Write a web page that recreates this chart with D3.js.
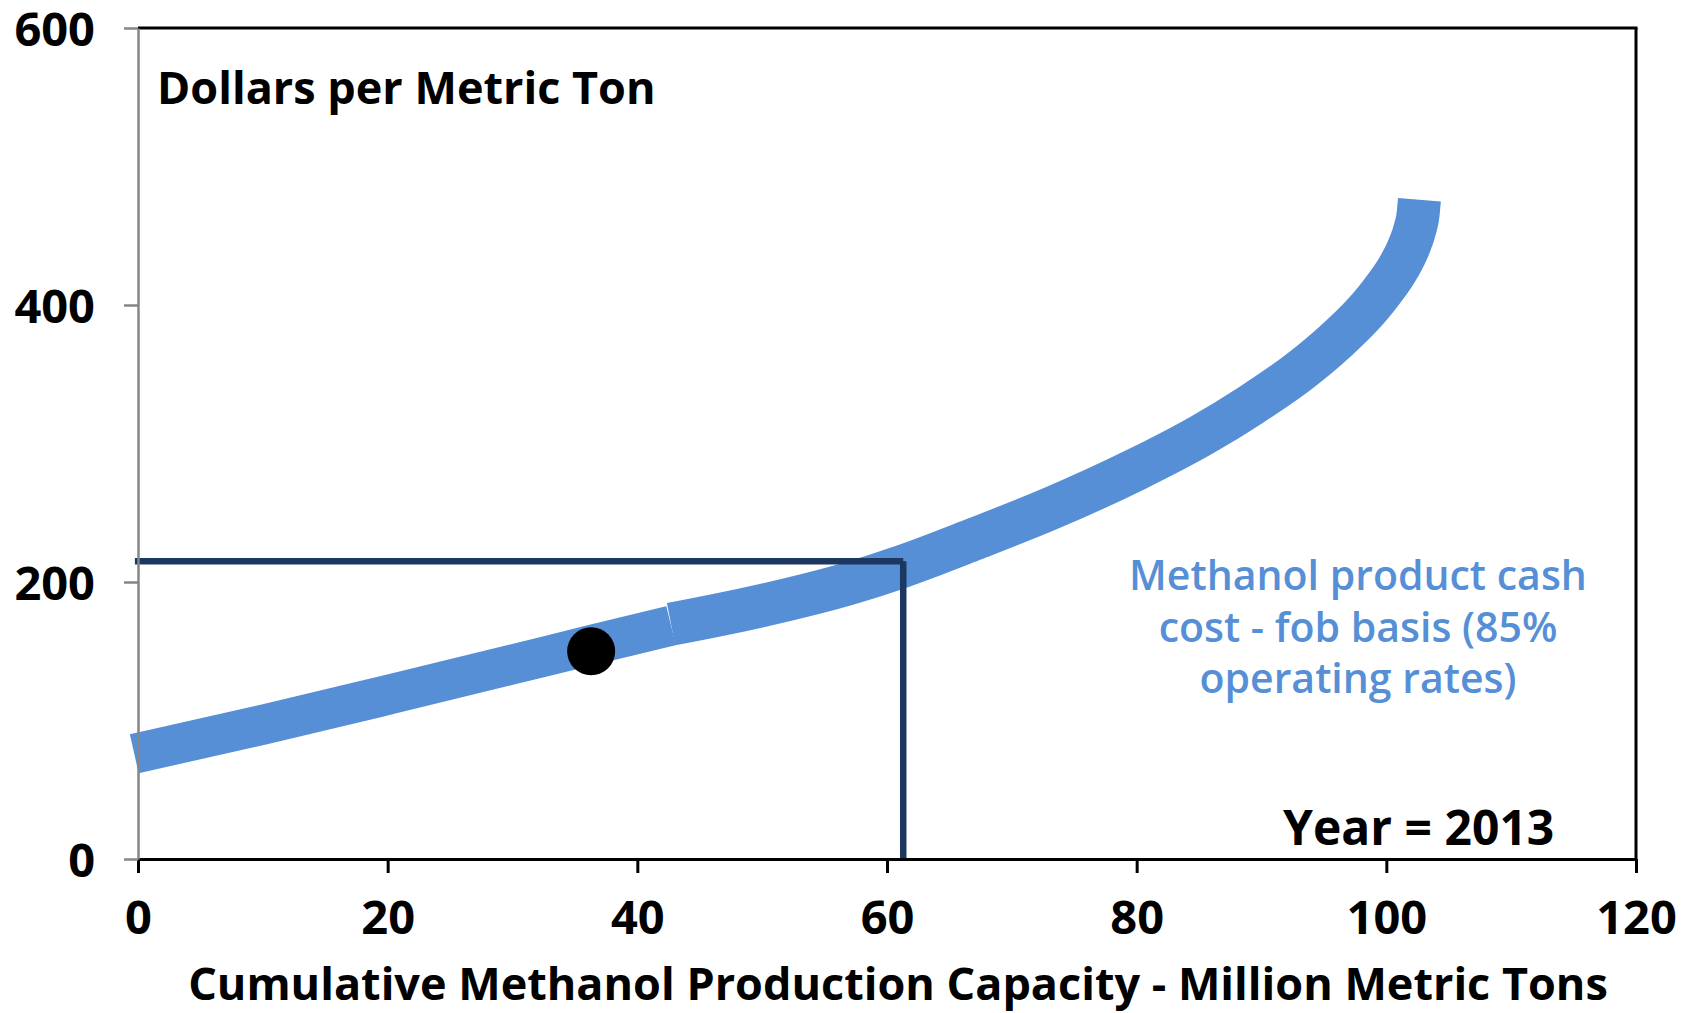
<!DOCTYPE html>
<html>
<head>
<meta charset="utf-8">
<script src="https://cdn.jsdelivr.net/npm/d3@7"></script>
<style>
  html, body { margin: 0; padding: 0; background: #ffffff; }
  svg { display: block; font-family: "Open Sans", "Noto Sans", sans-serif; }
</style>
</head>
<body>
<svg id="chart" width="1698" height="1013"></svg>
<script>
// Methanol cash-cost curve, 2013 (capacity in million metric tons, cost in $/t)
// first stretch of the curve: the cheapest producers
const capacityLow = [-0.3, 10, 20, 30, 36.3, 42.7];
const costLow     = [76, 97, 118.5, 140.5, 154.5, 168.5];
// second stretch: higher-cost producers up to the end of the curve
const capacityHigh = [42.7, 50, 57, 61.3, 67, 73.1, 80, 85.1, 89.1, 93.1, 96, 98, 99.5, 101, 101.8, 102.3, 102.55, 102.65];
const costHigh     = [169.5, 183, 199, 211.5, 231, 253, 281.5, 305.5, 327.5, 352.5, 374.5, 392, 408, 427.5, 442, 455, 466, 476];

// highlighted producer on the curve
const markerCapacity = [36.3];
const markerCost     = [150];

// demand / price guide lines
const guideCapacity = [-0.25, 61.3];
const guidePrice    = [215, 0];

const xTicks = [0, 20, 40, 60, 80, 100, 120];
const yTicks = [0, 200, 400, 600];

const yTitle = "Dollars per Metric Ton";
const xTitle = "Cumulative Methanol Production Capacity - Million Metric Tons";
const curveLabel = ["Methanol product cash", "cost - fob basis (85%", "operating rates)"];
const yearLabel = "Year = 2013";

const BLUE = "#568fd6";
const NAVY = "#1c3760";

const svg = d3.select("#chart");

const x = d3.scaleLinear().domain([0, 120]).range([138, 1636]);
const y = d3.scaleLinear().domain([0, 600]).range([859, 28]);

// plot background
svg.append("rect")
  .attr("x", x(0)).attr("y", y(600))
  .attr("width", x(120) - x(0)).attr("height", y(0) - y(600))
  .attr("fill", "#ffffff");

// cost curve
const line = d3.line()
  .x(d => x(d[0]))
  .y(d => y(d[1]))
  .curve(d3.curveMonotoneX);

svg.append("path")
  .datum(d3.zip(capacityLow, costLow))
  .attr("d", line)
  .attr("fill", "none")
  .attr("stroke", BLUE)
  .attr("stroke-width", 40)
  .attr("stroke-linecap", "butt");

svg.append("path")
  .datum(d3.zip(capacityHigh, costHigh))
  .attr("d", line)
  .attr("fill", "none")
  .attr("stroke", BLUE)
  .attr("stroke-width", 43)
  .attr("stroke-linecap", "butt");

// guide lines: price level across, then down to the capacity axis
svg.append("line")
  .attr("x1", x(guideCapacity[0])).attr("x2", x(guideCapacity[1]))
  .attr("y1", y(guidePrice[0])).attr("y2", y(guidePrice[0]))
  .attr("stroke", NAVY).attr("stroke-width", 6.5);
svg.append("line")
  .attr("x1", x(guideCapacity[1])).attr("x2", x(guideCapacity[1]))
  .attr("y1", y(guidePrice[0])).attr("y2", y(guidePrice[1]))
  .attr("stroke", NAVY).attr("stroke-width", 6.5);

// marker
svg.selectAll("circle.marker")
  .data(d3.zip(markerCapacity, markerCost))
  .join("circle")
  .attr("class", "marker")
  .attr("cx", d => x(d[0]))
  .attr("cy", d => y(d[1]))
  .attr("r", 24)
  .attr("fill", "#000000");

// frame: top and right edges
svg.append("line")
  .attr("x1", x(0)).attr("x2", x(120) + 1.5)
  .attr("y1", y(600)).attr("y2", y(600))
  .attr("stroke", "#000").attr("stroke-width", 3);
svg.append("line")
  .attr("x1", x(120)).attr("x2", x(120))
  .attr("y1", y(600)).attr("y2", y(0))
  .attr("stroke", "#000").attr("stroke-width", 3);

// x axis
const xAxis = svg.append("g")
  .attr("transform", `translate(0,${y(0)})`)
  .call(d3.axisBottom(x).tickValues(xTicks).tickSize(14).tickSizeOuter(0).tickPadding(28));
xAxis.select(".domain").attr("stroke", "#000").attr("stroke-width", 3);
xAxis.selectAll(".tick line").attr("stroke", "#000").attr("stroke-width", 3);
xAxis.selectAll(".tick text")
  .attr("fill", "#000")
  .style("font-family", "'Open Sans', 'Noto Sans', sans-serif")
  .style("font-size", "47px").style("font-weight", "700");

// y axis
const yAxis = svg.append("g")
  .attr("transform", `translate(${x(0)},0)`)
  .call(d3.axisLeft(y).tickValues(yTicks).tickSize(14).tickSizeOuter(0).tickPadding(29));
yAxis.select(".domain").attr("stroke", "#868686").attr("stroke-width", 2.5);
yAxis.selectAll(".tick line").attr("stroke", "#868686").attr("stroke-width", 2.5);
yAxis.selectAll(".tick text")
  .attr("fill", "#000")
  .attr("dy", "0.37em")
  .style("font-family", "'Open Sans', 'Noto Sans', sans-serif")
  .style("font-size", "47px").style("font-weight", "700");

// titles
svg.append("text")
  .attr("x", 157).attr("y", 104)
  .attr("fill", "#000")
  .style("font-size", "45px").style("font-weight", "700")
  .text(yTitle);

svg.append("text")
  .attr("x", 898).attr("y", 1000)
  .attr("text-anchor", "middle")
  .attr("fill", "#000")
  .style("font-size", "45px").style("font-weight", "700")
  .text(xTitle);

// curve annotation
svg.append("g")
  .selectAll("text")
  .data(curveLabel)
  .join("text")
  .attr("x", 1358)
  .attr("y", (d, i) => 590 + i * 51.5)
  .attr("text-anchor", "middle")
  .attr("fill", BLUE)
  .style("font-size", "41px").style("font-weight", "600")
  .text(d => d);

svg.append("text")
  .attr("x", 1283).attr("y", 845)
  .attr("fill", "#000")
  .style("font-size", "48px").style("font-weight", "700")
  .text(yearLabel);
</script>
</body>
</html>
